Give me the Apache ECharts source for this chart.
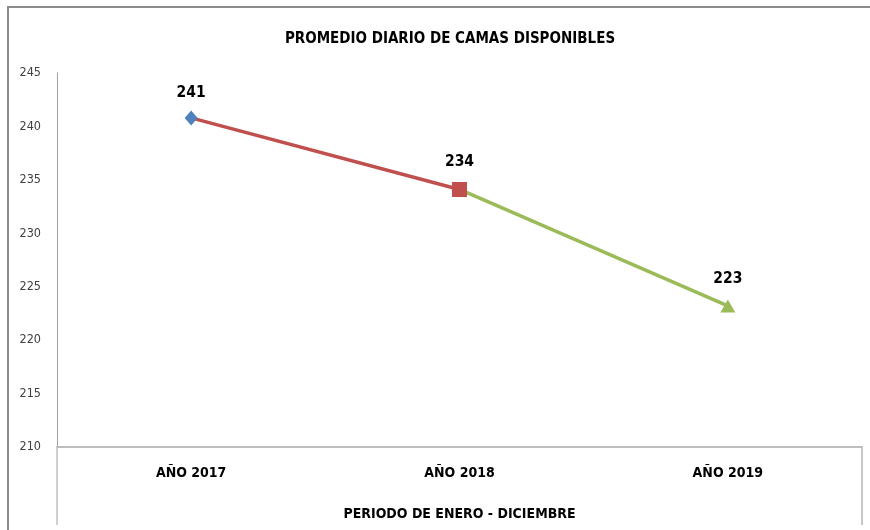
<!DOCTYPE html>
<html>
<head>
<meta charset="utf-8">
<script src="https://cdn.jsdelivr.net/npm/echarts@6/dist/echarts.min.js"></script>
<style>
  html, body { margin: 0; padding: 0; background: #fff; }
  #chart { width: 870px; height: 530px; }
</style>
</head>
<body>
<div id="chart"></div>
<script>
// datos
var categories = ["AÑO 2017", "AÑO 2018", "AÑO 2019"];
var values = [240.8, 234.1, 223.2];
var yTicks = [210, 215, 220, 225, 230, 235, 240, 245];
var markerSymbols = ["diamond", "rect", "triangle"];
var markerColors = ["#4F81BD", "#C0504D", "#9BBB59"];
var segmentColors = ["#C0504D", "#9BBB59"];

var font = '"Liberation Sans Narrow", "DejaVu Sans Condensed", sans-serif';
var markerSizes = [[13, 15], [15, 15], [15, 13]];

// una serie por tramo para colorear cada segmento
var lineSeries = segmentColors.map(function (c, i) {
  return {
    type: "line",
    data: values.map(function (v, j) { return (j === i || j === i + 1) ? v : "-"; }),
    symbol: "none",
    lineStyle: { color: c, width: 3.5 },
    z: 2
  };
});

var pointSeries = {
  type: "line",
  data: values.map(function (v, j) {
    return {
      value: v,
      symbol: markerSymbols[j],
      symbolSize: markerSizes[j],
      itemStyle: { color: markerColors[j] },
      label: { distance: j === 0 ? 9 : 12 }
    };
  }),
  lineStyle: { width: 0, opacity: 0 },
  label: {
    show: true,
    position: "top",
    distance: 12,
    fontFamily: font,
    fontSize: 15.5,
    fontWeight: "bold",
    color: "#000",
    formatter: function (p) { return Math.round(p.value); }
  },
  z: 3
};

var chart = echarts.init(document.getElementById("chart"));
chart.setOption({
  animation: false,
  title: {
    text: "PROMEDIO DIARIO DE CAMAS DISPONIBLES",
    left: 445,
    top: 27,
    textAlign: "center",
    textStyle: { fontFamily: font, fontSize: 15, fontWeight: "bold", color: "#000" }
  },
  grid: { left: 57, right: 8, top: 73, bottom: 83, outerBoundsMode: "none" },
  xAxis: {
    type: "category",
    data: categories,
    boundaryGap: true,
    axisLine: { lineStyle: { color: "#BDBDBD", width: 2 } },
    axisTick: { show: false },
    axisLabel: {
      margin: 19,
      fontFamily: font, fontSize: 14, fontWeight: "bold", color: "#000"
    },
    name: "PERIODO DE ENERO - DICIEMBRE",
    nameLocation: "middle",
    nameGap: 60,
    nameTextStyle: { fontFamily: font, fontSize: 14, fontWeight: "bold", color: "#000" }
  },
  yAxis: {
    type: "value",
    min: yTicks[0],
    max: yTicks[yTicks.length - 1],
    interval: 5,
    axisLine: { show: true, lineStyle: { color: "#A0A0A0", width: 1 } },
    axisTick: { show: false },
    splitLine: { show: false },
    axisLabel: {
      margin: 16,
      fontFamily: font, fontSize: 12.5, color: "#404040"
    }
  },
  graphic: [
    { type: "rect", shape: { x: 8, y: 7, width: 900, height: 600 }, style: { fill: "none", stroke: "#8C8C8C", lineWidth: 2 }, silent: true },
    { type: "line", shape: { x1: 57, y1: 447, x2: 57, y2: 525 }, style: { stroke: "#A0A0A0", lineWidth: 1 }, silent: true },
    { type: "line", shape: { x1: 862, y1: 447, x2: 862, y2: 525 }, style: { stroke: "#C8C8C8", lineWidth: 2 }, silent: true }
  ],
  series: lineSeries.concat([pointSeries])
});
</script>
</body>
</html>
